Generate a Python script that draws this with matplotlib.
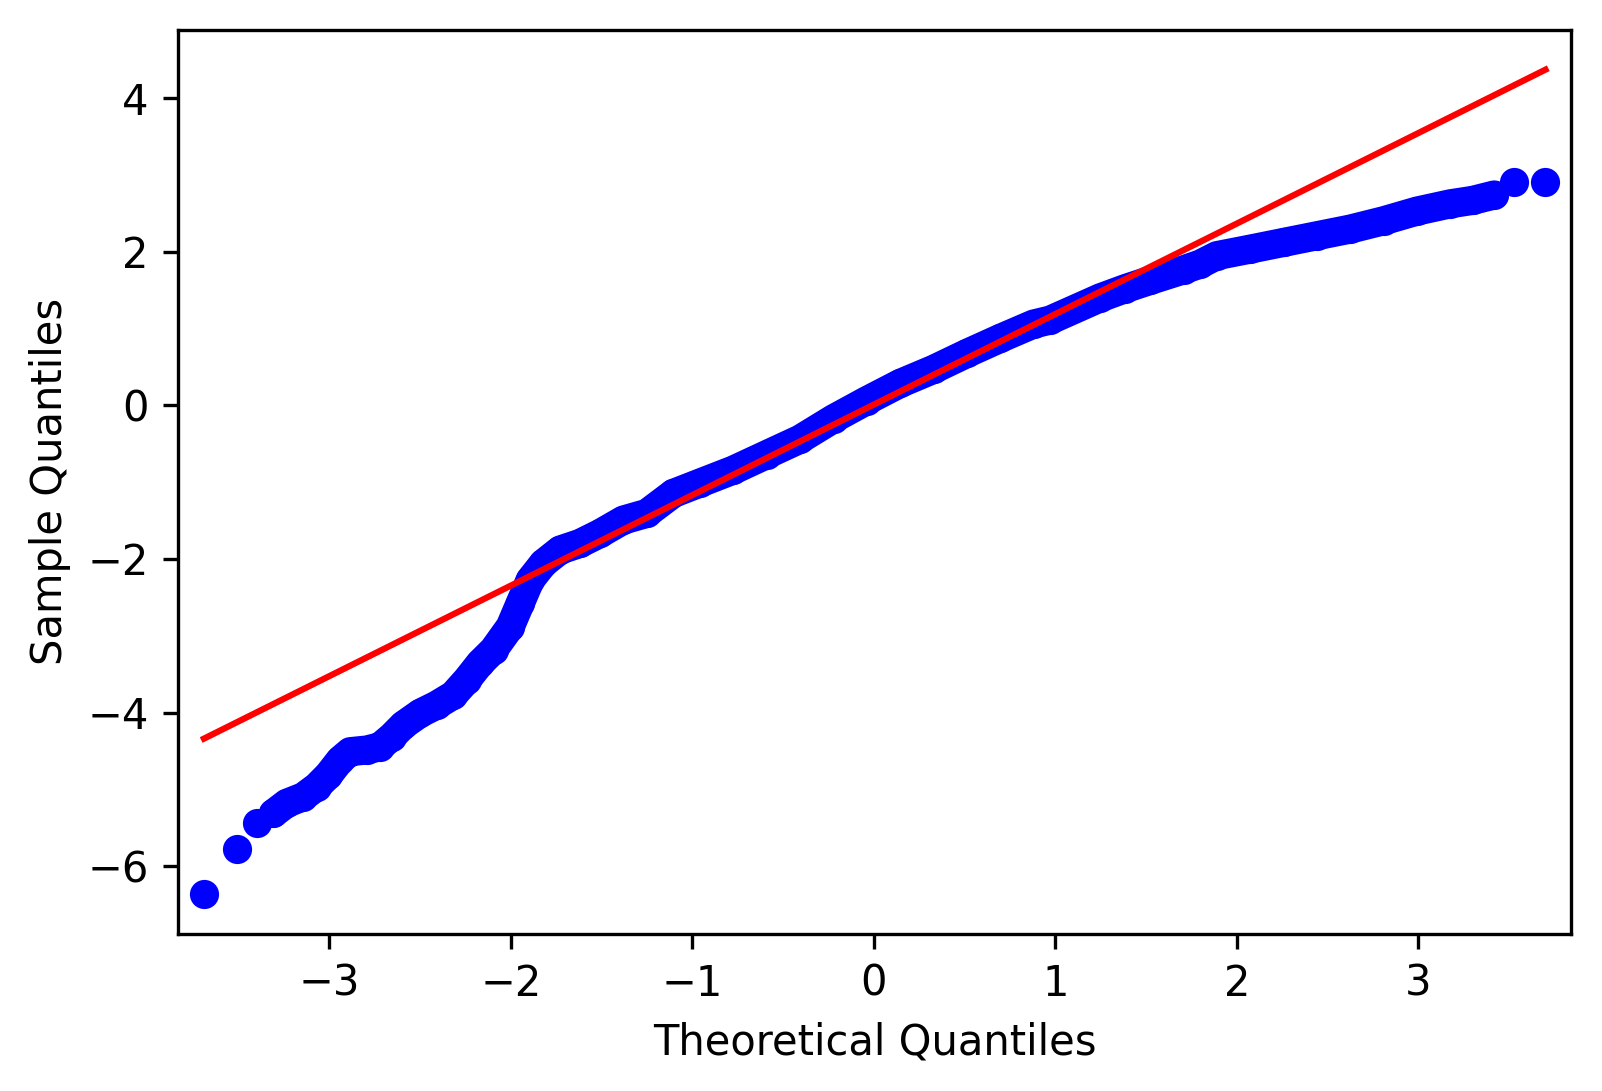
import matplotlib
matplotlib.use("Agg")
import numpy as np
import matplotlib.pyplot as plt

# quantile pairs (theoretical, sample)
theo_q = np.array([-3.690, -3.506, -3.400, -3.307, -3.234, -3.142, -3.068, -3.004,
                   -2.940, -2.885, -2.793, -2.720, -2.655, -2.591, -2.499, -2.407,
                   -2.316, -2.242, -2.169, -2.095, -2.003, -1.948, -1.893, -1.820,
                   -1.728, -1.618, -1.507, -1.379, -1.250, -1.104, -0.956, -0.773,
                   -0.589, -0.406, -0.222, -0.040, 0.145, 0.330, 0.513, 0.696,
                   0.880, 0.972, 1.247, 1.385, 1.523, 1.706, 1.798, 1.890,
                   2.074, 2.257, 2.441, 2.625, 2.808, 2.992, 3.176, 3.300,
                   3.418, 3.525, 3.700])
sample_q = np.array([-6.367, -5.781, -5.437, -5.313, -5.182, -5.096, -4.966, -4.814,
                     -4.620, -4.510, -4.488, -4.445, -4.315, -4.163, -4.010, -3.902,
                     -3.772, -3.577, -3.359, -3.186, -2.883, -2.578, -2.275, -2.057,
                     -1.884, -1.797, -1.667, -1.493, -1.406, -1.146, -1.010, -0.842,
                     -0.640, -0.440, -0.174, 0.060, 0.286, 0.470, 0.677, 0.872,
                     1.059, 1.111, 1.400, 1.520, 1.628, 1.765, 1.840, 1.950,
                     2.035, 2.122, 2.209, 2.296, 2.404, 2.530, 2.625, 2.670,
                     2.740, 2.912, 2.912])

# reference line end points
line_x = [-3.690, 3.700]
line_y = [-4.340, 4.372]

fig = plt.figure(figsize=(1602 / 300, 1091 / 300), dpi=300)
ax = fig.add_axes([0.111, 0.1442, 0.8697, 0.8287])

# dense part of the sample drawn as a continuous band, tails as single dots
band = slice(3, -2)
ax.plot(theo_q[band], sample_q[band], color='b', linewidth=7,
        solid_capstyle='round', solid_joinstyle='round')
ax.plot(theo_q, sample_q, 'bo', markersize=6)
ax.plot(line_x, line_y, 'r-', linewidth=1.5)

ax.set_xlim(-3.834, 3.841)
ax.set_ylim(-6.88, 4.894)
ax.set_xticks([-3, -2, -1, 0, 1, 2, 3])
ax.set_yticks([-6, -4, -2, 0, 2, 4])
ax.set_xlabel('Theoretical Quantiles')
ax.set_ylabel('Sample Quantiles')

fig.savefig('out.png', dpi=300)
